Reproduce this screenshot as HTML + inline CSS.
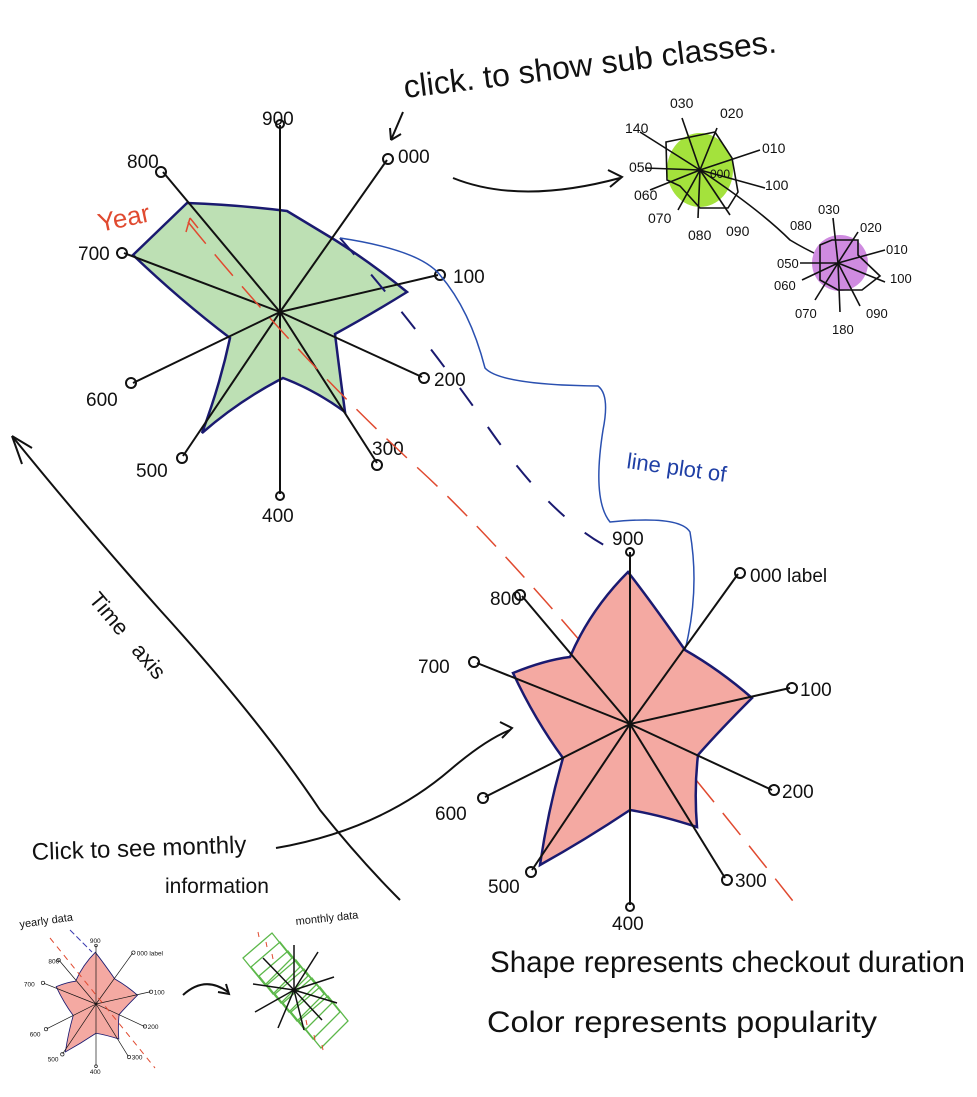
<!DOCTYPE html>
<html><head><meta charset="utf-8"><style>
html,body{margin:0;padding:0;background:#fff}
svg{display:block}
text{font-family:"Liberation Sans",sans-serif;fill:#111}
</style></head><body>
<svg width="977" height="1097" viewBox="0 0 977 1097" xmlns="http://www.w3.org/2000/svg">
<defs>
<g id="bigradar">
  <path d="M628,572 Q650,600 685,650 Q720,670 752,698 Q720,730 698,755 Q694,790 697,827 Q660,815 630,810 Q585,840 540,865 Q548,810 563,758 Q535,720 513,673 Q545,660 570,657 Q590,610 628,572Z" fill="#f4a9a2" stroke="#1a1a70" stroke-width="2.5"/>
  <g stroke="#111" stroke-width="2" fill="none">
    <line x1="630" y1="724" x2="630" y2="552"/>
    <line x1="630" y1="724" x2="738" y2="574"/>
    <line x1="630" y1="724" x2="790" y2="688"/>
    <line x1="630" y1="724" x2="772" y2="790"/>
    <line x1="630" y1="724" x2="725" y2="878"/>
    <line x1="630" y1="724" x2="630" y2="905"/>
    <line x1="630" y1="724" x2="532" y2="870"/>
    <line x1="630" y1="724" x2="485" y2="797"/>
    <line x1="630" y1="724" x2="477" y2="663"/>
    <line x1="630" y1="724" x2="522" y2="596"/>
    <circle cx="630" cy="552" r="4"/><circle cx="740" cy="573" r="5"/><circle cx="792" cy="688" r="5"/>
    <circle cx="774" cy="790" r="5"/><circle cx="727" cy="880" r="5"/><circle cx="630" cy="907" r="4"/>
    <circle cx="531" cy="872" r="5"/><circle cx="483" cy="798" r="5"/><circle cx="474" cy="662" r="5"/><circle cx="520" cy="595" r="5"/>
  </g>
  <g font-size="19">
    <text x="612" y="545">900</text><text x="750" y="582">000 label</text>
    <text x="800" y="696">100</text><text x="782" y="798">200</text><text x="735" y="887">300</text>
    <text x="612" y="930">400</text><text x="488" y="893">500</text><text x="435" y="820">600</text>
    <text x="418" y="673">700</text><text x="490" y="605">800</text>
  </g>
</g>
</defs>

<!-- top annotations -->
<text x="405" y="98" font-size="32" transform="rotate(-7 405 98)">click. to show sub classes.</text>
<path d="M403,112 L391,140 M391,140 L390,128 M391,140 L401,134" stroke="#111" stroke-width="2" fill="none"/>

<!-- top radar -->
<path d="M133,255 L187,203 Q240,205 287,211 Q310,225 335,240 Q370,262 407,292 Q370,315 335,334 Q340,375 345,412 Q315,390 283,378 Q240,400 202,433 Q220,385 230,338 Q180,300 133,255Z" fill="#bde0b4" stroke="#1a1a70" stroke-width="2.5"/>
<g stroke="#111" stroke-width="2" fill="none">
  <line x1="280" y1="312" x2="280" y2="125"/>
  <line x1="280" y1="312" x2="387" y2="160"/>
  <line x1="280" y1="312" x2="438" y2="275"/>
  <line x1="280" y1="312" x2="422" y2="377"/>
  <line x1="280" y1="312" x2="377" y2="463"/>
  <line x1="280" y1="312" x2="280" y2="494"/>
  <line x1="280" y1="312" x2="183" y2="456"/>
  <line x1="280" y1="312" x2="133" y2="383"/>
  <line x1="280" y1="312" x2="124" y2="253"/>
  <line x1="280" y1="312" x2="163" y2="172"/>
  <circle cx="280" cy="124" r="4"/><circle cx="388" cy="159" r="5"/><circle cx="440" cy="275" r="5"/>
  <circle cx="424" cy="378" r="5"/><circle cx="377" cy="465" r="5"/><circle cx="280" cy="496" r="4"/>
  <circle cx="182" cy="458" r="5"/><circle cx="131" cy="383" r="5"/><circle cx="122" cy="253" r="5"/><circle cx="161" cy="172" r="5"/>
</g>
<g font-size="19">
  <text x="262" y="125">900</text><text x="398" y="163">000</text><text x="453" y="283">100</text>
  <text x="434" y="386">200</text><text x="372" y="455">300</text><text x="262" y="522">400</text>
  <text x="136" y="477">500</text><text x="86" y="406">600</text><text x="78" y="260">700</text><text x="127" y="168">800</text>
</g>

<!-- red dashed -->
<path d="M188,222 Q300,360 420,470 T800,910" stroke="#e04a30" stroke-width="1.5" fill="none" stroke-dasharray="28 14"/>
<path d="M186,232 L190,218 M190,218 L198,228" stroke="#e04a30" stroke-width="1.5" fill="none"/>
<text x="100" y="232" font-size="26" style="fill:#e04a30" transform="rotate(-12 100 232)">Year</text>
<!-- navy dashed -->
<path d="M340,238 Q420,330 490,430 T625,555" stroke="#1a1a70" stroke-width="2" fill="none" stroke-dasharray="22 26"/>
<!-- blue line -->
<path d="M340,238 Q420,250 440,275 Q470,310 485,368 Q500,385 598,386 Q610,395 603,430 Q592,500 610,522 Q680,515 690,532 Q700,590 685,650" stroke="#2a50b0" stroke-width="1.5" fill="none"/>
<text x="626" y="468" font-size="22" style="fill:#1f3fa5" transform="rotate(8 626 468)">line plot of</text>

<!-- arrow to subclasses -->
<path d="M453,178 Q520,205 620,178" stroke="#111" stroke-width="2" fill="none"/>
<path d="M608,170 L622,177 L610,187" stroke="#111" stroke-width="2" fill="none"/>

<!-- green subclass -->
<ellipse cx="700" cy="170" rx="33" ry="37" fill="#a4e23c"/>
<g stroke="#111" stroke-width="1.6" fill="none">
  <path d="M666,142 L715,132 L732,158 L738,192 L728,208 L700,208 L680,186 L667,180Z"/>
  <line x1="700" y1="170" x2="682" y2="118"/><line x1="700" y1="170" x2="717" y2="128"/>
  <line x1="700" y1="170" x2="760" y2="150"/><line x1="700" y1="170" x2="765" y2="188"/>
  <line x1="700" y1="170" x2="640" y2="132"/><line x1="700" y1="170" x2="645" y2="168"/>
  <line x1="700" y1="170" x2="650" y2="190"/><line x1="700" y1="170" x2="678" y2="210"/>
  <line x1="700" y1="170" x2="698" y2="218"/><line x1="700" y1="170" x2="730" y2="215"/>
  <path d="M700,170 Q760,210 790,240 Q815,255 838,263"/>
</g>
<g font-size="14">
  <text x="670" y="108">030</text><text x="720" y="118">020</text><text x="762" y="153">010</text>
  <text x="765" y="190">100</text><text x="625" y="133">140</text><text x="629" y="172">050</text>
  <text x="634" y="200">060</text><text x="648" y="223">070</text><text x="688" y="240">080</text><text x="726" y="236">090</text>
  <text x="710" y="178" font-size="12">000</text>
</g>

<!-- purple subclass -->
<ellipse cx="840" cy="263" rx="28" ry="28" fill="#cf8be0"/>
<g stroke="#111" stroke-width="1.6" fill="none">
  <path d="M820,245 L832,240 L858,240 L858,255 L880,276 L862,290 L838,290 L820,280Z"/>
  <line x1="838" y1="263" x2="833" y2="218"/><line x1="838" y1="263" x2="858" y2="232"/>
  <line x1="838" y1="263" x2="885" y2="250"/><line x1="838" y1="263" x2="885" y2="282"/>
  <line x1="838" y1="263" x2="800" y2="263"/><line x1="838" y1="263" x2="802" y2="280"/>
  <line x1="838" y1="263" x2="815" y2="300"/><line x1="838" y1="263" x2="840" y2="312"/>
  <line x1="838" y1="263" x2="860" y2="306"/>
</g>
<g font-size="13">
  <text x="818" y="214">030</text><text x="860" y="232">020</text><text x="886" y="254">010</text>
  <text x="890" y="283">100</text><text x="790" y="230">080</text><text x="777" y="268">050</text>
  <text x="774" y="290">060</text><text x="795" y="318">070</text><text x="832" y="334">180</text><text x="866" y="318">090</text>
</g>

<!-- bottom radar -->
<use href="#bigradar"/>

<!-- time axis -->
<path d="M12,436 Q80,520 160,610 Q260,720 320,810 Q360,860 400,900" stroke="#111" stroke-width="2" fill="none"/>
<path d="M12,436 L32,448 M12,436 L22,464" stroke="#111" stroke-width="2" fill="none"/>
<text x="88" y="600" font-size="22" transform="rotate(50 88 600)">Time&#160;&#160;&#160;axis</text>

<!-- click to see monthly -->
<text x="32" y="860" font-size="24" transform="rotate(-2 32 860)">Click to see monthly</text>
<text x="165" y="893" font-size="21">information</text>
<path d="M276,848 Q380,830 450,770 Q485,740 510,730" stroke="#111" stroke-width="2" fill="none"/>
<path d="M500,722 L512,728 L502,738" stroke="#111" stroke-width="2" fill="none"/>

<!-- bottom text -->
<text x="490" y="972" font-size="30" textLength="475" lengthAdjust="spacingAndGlyphs">Shape represents checkout duration</text>
<text x="487" y="1032" font-size="30" textLength="390" lengthAdjust="spacingAndGlyphs">Color represents popularity</text>

<!-- mini yearly -->
<text x="20" y="928" font-size="11" transform="rotate(-8 20 928)">yearly data</text>
<g transform="translate(96,1004) scale(0.34) translate(-630,-724)">
  <use href="#bigradar"/>
</g>
<path d="M50,938 L155,1068" stroke="#e04a30" stroke-width="1" stroke-dasharray="6 5" fill="none"/>
<path d="M70,930 L92,952" stroke="#3a3ab0" stroke-width="1" stroke-dasharray="6 3"/>

<!-- arrow mini -->
<path d="M183,995 Q205,975 228,992" stroke="#111" stroke-width="2" fill="none"/>
<path d="M218,992 L229,994 L226,984" stroke="#111" stroke-width="2" fill="none"/>

<!-- monthly -->
<text x="296" y="925" font-size="11" transform="rotate(-6 296 925)">monthly data</text>
<g stroke="#5cb84a" stroke-width="1.3" fill="none">
  <path d="M243,958 L272,933 L292,958 L265,985Z"/>
  <path d="M251,967 L280,942 L300,967 L273,994Z"/>
  <path d="M259,976 L288,951 L308,976 L281,1003Z"/>
  <path d="M267,985 L296,960 L316,985 L289,1012Z"/>
  <path d="M275,994 L304,969 L324,994 L297,1021Z"/>
  <path d="M283,1003 L312,978 L332,1003 L305,1030Z"/>
  <path d="M291,1012 L320,987 L340,1012 L313,1039Z"/>
  <path d="M299,1021 L328,996 L348,1021 L321,1048Z"/>
</g>
<g stroke="#e04a30" stroke-width="1">
  <line x1="258" y1="932" x2="259" y2="937"/><line x1="266" y1="942" x2="267" y2="947"/>
  <line x1="272" y1="954" x2="273" y2="959"/><line x1="306" y1="1020" x2="307" y2="1025"/>
  <line x1="314" y1="1035" x2="315" y2="1040"/><line x1="322" y1="1045" x2="323" y2="1050"/>
</g>
<g stroke="#111" stroke-width="1.5">
  <line x1="294" y1="990" x2="294" y2="945"/><line x1="294" y1="990" x2="318" y2="952"/>
  <line x1="294" y1="990" x2="334" y2="977"/><line x1="294" y1="990" x2="337" y2="1003"/>
  <line x1="294" y1="990" x2="322" y2="1020"/><line x1="294" y1="990" x2="304" y2="1030"/>
  <line x1="294" y1="990" x2="278" y2="1028"/><line x1="294" y1="990" x2="255" y2="1012"/>
  <line x1="294" y1="990" x2="253" y2="984"/><line x1="294" y1="990" x2="263" y2="958"/>
</g>
</svg>
</body></html>
